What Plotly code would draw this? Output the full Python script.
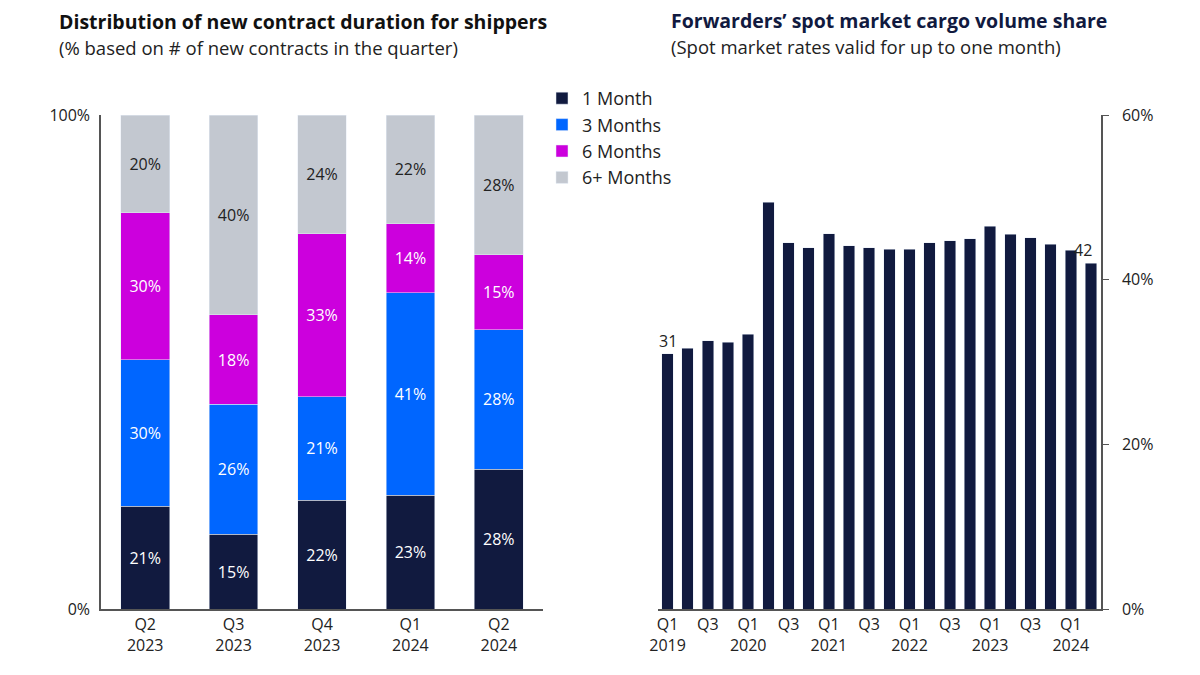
import plotly.graph_objects as go

# left chart: distribution of new contract duration
quarters = ['Q2<br>2023', 'Q3<br>2023', 'Q4<br>2023', 'Q1<br>2024', 'Q2<br>2024']
one_month = [21, 15, 22, 23, 28]
three_months = [30, 26, 21, 41, 28]
six_months = [30, 18, 33, 14, 15]
six_plus = [20, 40, 24, 22, 28]

# right chart: forwarders' spot market share
periods = ['Q1 2019', 'Q2 2019', 'Q3 2019', 'Q4 2019',
           'Q1 2020', 'Q2 2020', 'Q3 2020', 'Q4 2020',
           'Q1 2021', 'Q2 2021', 'Q3 2021', 'Q4 2021',
           'Q1 2022', 'Q2 2022', 'Q3 2022', 'Q4 2022',
           'Q1 2023', 'Q2 2023', 'Q3 2023', 'Q4 2023',
           'Q1 2024', 'Q2 2024']
spot_share = [31.0, 31.7, 32.6, 32.4, 33.4, 49.4, 44.5, 43.9, 45.6, 44.1, 43.9,
              43.7, 43.7, 44.5, 44.7, 45.0, 46.5, 45.5, 45.1, 44.3, 43.6, 42.0]
period_ticks = ['Q1<br>2019', 'Q3', 'Q1<br>2020', 'Q3', 'Q1<br>2021', 'Q3',
                'Q1<br>2022', 'Q3', 'Q1<br>2023', 'Q3', 'Q1<br>2024']

navy = '#111a3f'
blue = '#0066ff'
magenta = '#cc00dd'
grey = '#c3c8d0'
font = 'Open Sans'

W, H, OFF = 1200, 675, 8  # page body margin shifts the figure by 8px


def px(x):
    return (x - OFF) / W


def py(y):
    return 1 - (y - OFF) / H


# rounded shares don't always add to 100, so scale each quarter to a full bar
totals = [a + b + c + d for a, b, c, d in zip(one_month, three_months, six_months, six_plus)]

fig = go.Figure()

series = [('1 Month', one_month, navy, 'white'),
          ('3 Months', three_months, blue, 'white'),
          ('6 Months', six_months, magenta, 'white'),
          ('6+ Months', six_plus, grey, '#222222')]
for name, vals, col, tcol in series:
    fig.add_trace(go.Bar(name=name, x=quarters,
                         y=[v / t * 100 for v, t in zip(vals, totals)],
                         marker_color=col,
                         text=vals, texttemplate='%{text}%', textposition='inside',
                         insidetextanchor='middle', textangle=0,
                         insidetextfont=dict(color=tcol, size=16, family=font),
                         width=0.55, xaxis='x', yaxis='y'))

fig.add_trace(go.Bar(x=periods, y=spot_share, marker_color=navy, width=0.57,
                     showlegend=False, xaxis='x2', yaxis='y2'))

fig.add_annotation(x=periods[0], y=spot_share[0], xref='x2', yref='y2',
                   text='31', showarrow=False, yanchor='bottom',
                   font=dict(size=16, color='#222222', family=font))
fig.add_annotation(x=periods[-1], y=spot_share[-1], xref='x2', yref='y2',
                   text='42', showarrow=False, yanchor='bottom', xshift=-8,
                   font=dict(size=16, color='#222222', family=font))

# titles with subtitles, one block each
fig.add_annotation(x=px(58), y=py(7), xref='paper', yref='paper',
                   text='<span style="font-size:19.5px;color:#111111"><b>Distribution of new contract duration for shippers</b></span>'
                        '<br><span style="font-size:18.5px">(% based on # of new contracts in the quarter)</span>',
                   showarrow=False, xanchor='left', yanchor='top', align='left', borderpad=0,
                   font=dict(size=20, color='#222222', family=font))
fig.add_annotation(x=px(670), y=py(6), xref='paper', yref='paper',
                   text='<span style="font-size:19.5px;color:#111a3f"><b>Forwarders\u2019 spot market cargo volume share</b></span>'
                        '<br><span style="font-size:18.5px">(Spot market rates valid for up to one month)</span>',
                   showarrow=False, xanchor='left', yanchor='top', align='left', borderpad=0,
                   font=dict(size=20, color='#222222', family=font))

axis_font = dict(size=16, color='#222222', family=font)
ydom = [py(609), py(115)]

fig.update_layout(
    width=W, height=H,
    margin=dict(l=0, r=0, t=0, b=0, autoexpand=False),
    plot_bgcolor='white', paper_bgcolor='white',
    barmode='stack',
    font=dict(family=font),
    legend=dict(x=px(542), y=py(80), xanchor='left', yanchor='top',
                traceorder='normal', font=dict(size=18, color='#222222', family=font),
                itemwidth=30),
    xaxis=dict(domain=[px(101), px(543)], range=[-0.5, 4.5], showline=True,
               linecolor='#555555', linewidth=1.5, ticks='', tickfont=axis_font),
    yaxis=dict(domain=ydom, range=[0, 100], tickvals=[0, 100], ticktext=['0%', '100%'],
               showgrid=False, zeroline=False, showline=True, linecolor='#555555',
               linewidth=1.5, tickfont=axis_font, ticklabelstandoff=6),
    xaxis2=dict(domain=[px(657.5), px(1101)], range=[-0.5, 21.5], anchor='y2',
                showline=True, linecolor='#555555', linewidth=1.5, ticks='',
                tickvals=periods[::2], ticktext=period_ticks, tickangle=0,
                tickfont=axis_font),
    yaxis2=dict(domain=ydom, anchor='x2', side='right', range=[0, 60],
                tickvals=[0, 20, 40, 60], ticktext=['0%', '20%', '40%', '60%'],
                showgrid=False, zeroline=False, showline=True, linecolor='#555555',
                linewidth=1.5, ticks='outside', ticklen=6, tickcolor='#555555',
                tickfont=axis_font, ticklabelstandoff=10),
)

fig.write_html('out.html')
